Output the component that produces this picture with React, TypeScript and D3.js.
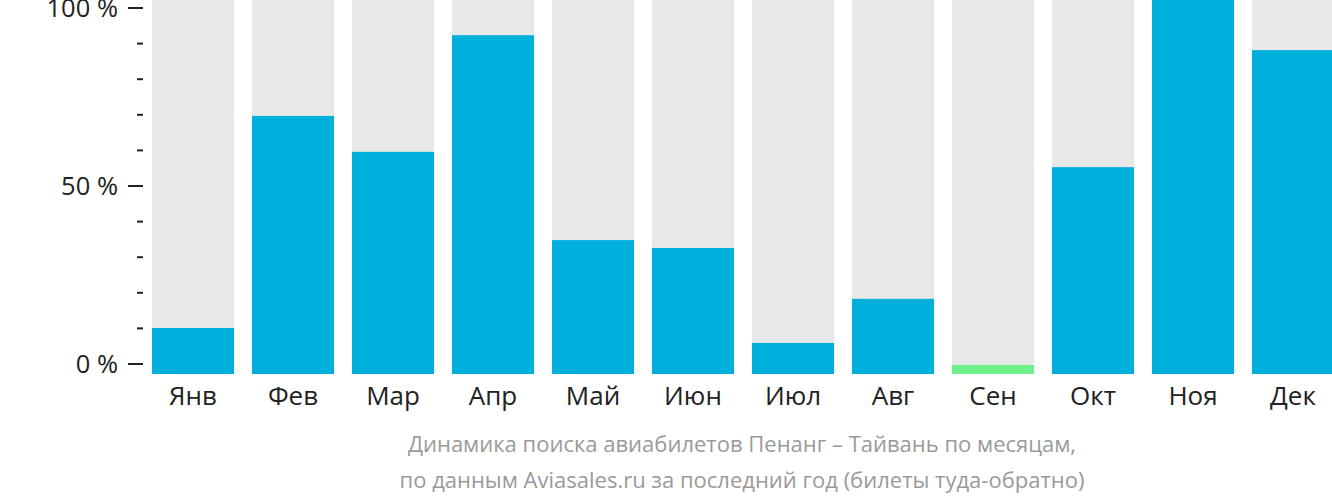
import React from "react";
import * as d3 from "d3";

const months = ["Янв", "Фев", "Мар", "Апр", "Май", "Июн", "Июл", "Авг", "Сен", "Окт", "Ноя", "Дек"];
const values = [12.3, 69.0, 59.4, 90.6, 35.8, 33.7, 8.3, 20.1, 2.4, 55.3, 100, 86.6];
const highlight = [false, false, false, false, false, false, false, false, true, false, false, false];
const majorTicks = [0, 50, 100];
const minorTicks = [10, 20, 30, 40, 60, 70, 80, 90];
const captionLines = [
  "Динамика поиска авиабилетов Пенанг – Тайвань по месяцам,",
  "по данным Aviasales.ru за последний год (билеты туда-обратно)",
];

export default function App() {
  const W = 1332, H = 502;
  const x = d3.scaleBand<string>().domain(months).range([143, 1343]).paddingInner(0.18).paddingOuter(0.09);
  const yBar = d3.scaleLinear().domain([0, 100]).range([374, 0]);
  const yAxis = d3.scaleLinear().domain([0, 100]).range([364, 8]);
  const font = "'Open Sans', 'Noto Sans', sans-serif";
  return (
    <svg width={W} height={H} style={{ position: "absolute", left: 0, top: 0, background: "#fff" }}>
      {months.map((m, i) => (
        <g key={m}>
          <rect x={x(m)} y={yBar(100)} width={x.bandwidth()} height={yBar(0) - yBar(100)} fill="#e8e8e8" />
          <rect x={x(m)} y={yBar(values[i])} width={x.bandwidth()} height={yBar(0) - yBar(values[i])}
            fill={highlight[i] ? "#6df08a" : "#00b0dc"} />
          <text x={(x(m) as number) + x.bandwidth() / 2} y={405} textAnchor="middle" fontFamily={font}
            fontSize={26} fill="#222">{m}</text>
        </g>
      ))}
      {majorTicks.map((t) => (
        <g key={t}>
          <line x1={128} x2={143} y1={yAxis(t)} y2={yAxis(t)} stroke="#222" strokeWidth={2} />
          <text x={118} y={yAxis(t) + 9} textAnchor="end" fontFamily={font} fontSize={25.5} fill="#222">{t} %</text>
        </g>
      ))}
      {minorTicks.map((t) => (
        <line key={t} x1={137} x2={143} y1={yAxis(t)} y2={yAxis(t)} stroke="#222" strokeWidth={2} />
      ))}
      {captionLines.map((l, i) => (
        <text key={i} x={742} y={452 + i * 36} textAnchor="middle" fontFamily={font} fontSize={22} fill="#9a9a9a">{l}</text>
      ))}
    </svg>
  );
}
